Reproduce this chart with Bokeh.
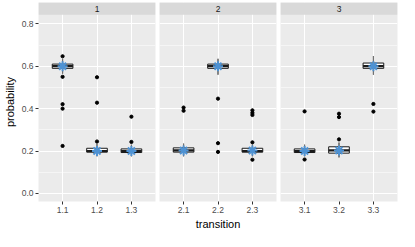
from bokeh.plotting import figure
from bokeh.layouts import row
from bokeh.models import FactorRange, Range1d, FixedTicker, NumeralTickFormatter, BoxAnnotation
from bokeh.core.properties import value
from bokeh.embed import file_html
from bokeh.resources import INLINE

panels = ["1", "2", "3"]
cats = [["1.1", "1.2", "1.3"], ["2.1", "2.2", "2.3"], ["3.1", "3.2", "3.3"]]
q1 = [[0.590, 0.195, 0.193], [0.195, 0.590, 0.195], [0.193, 0.190, 0.590]]
med = [[0.600, 0.200, 0.200], [0.203, 0.600, 0.200], [0.200, 0.203, 0.600]]
q3 = [[0.610, 0.213, 0.210], [0.215, 0.610, 0.213], [0.210, 0.220, 0.615]]
lo = [[0.565, 0.175, 0.175], [0.175, 0.560, 0.175], [0.175, 0.170, 0.560]]
hi = [[0.635, 0.235, 0.230], [0.235, 0.635, 0.230], [0.230, 0.240, 0.648]]
mean = [[0.600, 0.200, 0.200], [0.202, 0.600, 0.202], [0.200, 0.203, 0.600]]
out_cat = [
    ["1.1", "1.1", "1.1", "1.1", "1.1", "1.2", "1.2", "1.2", "1.3", "1.3"],
    ["2.1", "2.1", "2.2", "2.2", "2.2", "2.3", "2.3", "2.3", "2.3", "2.3"],
    ["3.1", "3.1", "3.2", "3.2", "3.2", "3.3", "3.3"],
]
out_val = [
    [0.647, 0.550, 0.421, 0.400, 0.224, 0.548, 0.428, 0.245, 0.362, 0.243],
    [0.405, 0.390, 0.447, 0.237, 0.196, 0.392, 0.380, 0.370, 0.241, 0.159],
    [0.387, 0.160, 0.376, 0.360, 0.255, 0.422, 0.386],
]
y_ticks = [0.0, 0.2, 0.4, 0.6, 0.8]
y_minor = [0.1, 0.3, 0.5, 0.7]

FONT = "Liberation Sans"
PANEL_TOP = 0.843
Y_START = -0.038
Y_END = 0.9005
STAR = "#4E92D3"

figs = []
for i in range(3):
    first = i == 0
    p = figure(
        x_range=FactorRange(factors=cats[i], range_padding=0.2, range_padding_units="absolute"),
        y_range=Range1d(Y_START, Y_END),
        frame_width=117, frame_height=199,
        output_backend="svg", toolbar_location=None,
        min_border_top=2, min_border_bottom=0,
        min_border_left=(0 if first else 2), min_border_right=2,
    )
    p.background_fill_color = "#EBEBEB"
    p.border_fill_color = "white"
    p.outline_line_color = None

    p.ygrid.ticker = FixedTicker(ticks=y_ticks, minor_ticks=y_minor)
    p.ygrid.grid_line_color = "white"
    p.ygrid.grid_line_width = 1.1
    p.ygrid.minor_grid_line_color = "white"
    p.ygrid.minor_grid_line_width = 0.5
    p.xgrid.grid_line_color = "white"
    p.xgrid.grid_line_width = 1.1

    p.xaxis.axis_line_color = None
    p.xaxis.major_tick_line_color = "#333333"
    p.xaxis.major_tick_out = 3
    p.xaxis.major_tick_in = 0
    p.xaxis.minor_tick_line_color = None
    p.xaxis.major_label_text_font = FONT
    p.xaxis.major_label_text_font_size = "8.5px"
    p.xaxis.major_label_text_color = "#4D4D4D"
    p.xaxis.major_label_standoff = 2
    if i == 1:
        p.xaxis.axis_label = "transition"
        p.xaxis.axis_label_text_font = FONT
        p.xaxis.axis_label_text_font_size = "11px"
        p.xaxis.axis_label_text_font_style = "normal"
        p.xaxis.axis_label_text_color = "black"
        p.xaxis.axis_label_standoff = 2

    if first:
        p.yaxis.ticker = FixedTicker(ticks=y_ticks)
        p.yaxis.formatter = NumeralTickFormatter(format="0.0")
        p.yaxis.axis_line_color = None
        p.yaxis.major_tick_line_color = "#333333"
        p.yaxis.major_tick_out = 3
        p.yaxis.major_tick_in = 0
        p.yaxis.minor_tick_line_color = None
        p.yaxis.major_label_text_font = FONT
        p.yaxis.major_label_text_font_size = "8.5px"
        p.yaxis.major_label_text_color = "#4D4D4D"
        p.yaxis.major_label_standoff = 2
        p.yaxis.axis_label = "probability"
        p.yaxis.axis_label_text_font = FONT
        p.yaxis.axis_label_text_font_size = "11px"
        p.yaxis.axis_label_text_font_style = "normal"
        p.yaxis.axis_label_text_color = "black"
        p.yaxis.axis_label_standoff = 3
    else:
        p.yaxis.visible = False

    strip = BoxAnnotation(bottom=PANEL_TOP, fill_color="#D9D9D9", fill_alpha=1.0,
                          line_color=None, level="underlay")
    p.add_layout(strip)
    p.text(x=[cats[i][1]], y=[(PANEL_TOP + Y_END) / 2], text=[panels[i]],
           text_align="center", text_baseline="middle",
           text_font=value(FONT), text_font_size="8.5px", text_color="#1A1A1A")

    p.segment(x0=cats[i], y0=lo[i], x1=cats[i], y1=q1[i], line_color="#333333", line_width=1)
    p.segment(x0=cats[i], y0=q3[i], x1=cats[i], y1=hi[i], line_color="#333333", line_width=1)
    p.vbar(x=cats[i], bottom=q1[i], top=q3[i], width=0.6,
           fill_color="white", line_color="#1A1A1A", line_width=1)
    p.rect(x=cats[i], y=med[i], width=0.6, height=2.2, height_units="screen",
           fill_color="#1A1A1A", line_color=None)
    p.segment(x0=cats[i], y0=lo[i], x1=cats[i], y1=hi[i], line_color="#777777", line_width=1)
    p.scatter(x=out_cat[i], y=out_val[i], size=3.2, color="black")
    p.scatter(x=cats[i], y=mean[i], marker="asterisk", size=10, line_color=STAR, line_width=2)
    figs.append(p)

layout = row(*figs)
open("out.html", "w").write(file_html(layout, INLINE))
